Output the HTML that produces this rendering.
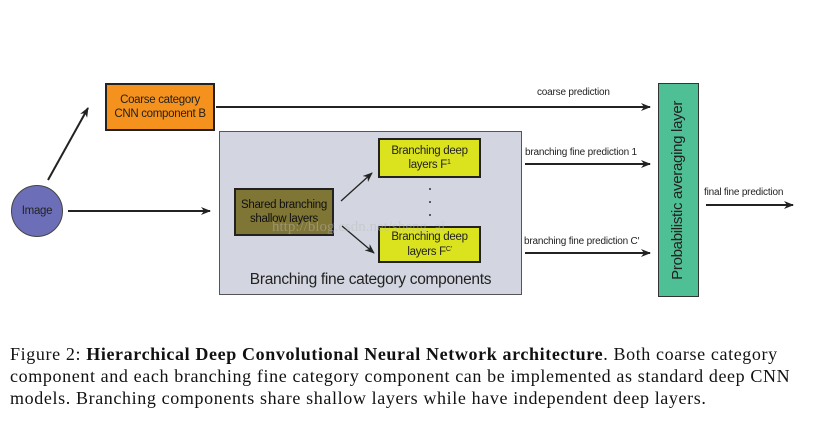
<!DOCTYPE html>
<html><head><style>
body{margin:0;width:817px;height:428px;background:#fff;position:relative;overflow:hidden;font-family:"Liberation Sans",sans-serif}
.b{position:absolute;box-sizing:border-box;display:flex;align-items:center;justify-content:center;text-align:center;line-height:1.25;letter-spacing:-0.3px}
.cap{position:absolute;left:10px;top:343px;width:810px;font-family:"Liberation Serif",serif;font-size:18px;letter-spacing:0.62px;line-height:22px;color:#111;white-space:nowrap}
sup{font-size:7px;vertical-align:4px;line-height:0}
</style></head><body>
<div class="b" style="left:219px;top:131px;width:303px;height:164px;background:#d3d6e0;border:1.5px solid #555;align-items:flex-end;padding-bottom:5px;font-size:15.5px;color:#222">Branching fine category components</div>
<div class="b" style="left:105px;top:83px;width:110px;height:48px;background:#f5921e;border:2px solid #222;font-size:11.5px;color:#222"><span>Coarse category<br>CNN component B</span></div>
<div class="b" style="left:234px;top:188px;width:100px;height:48px;background:#7f7535;border:2px solid #222;font-size:11.5px;color:#111"><span>Shared branching<br>shallow layers</span></div>
<div class="b" style="left:378px;top:138px;width:103px;height:40px;background:#dbe31f;border:2px solid #222;font-size:11.5px;color:#222"><span>Branching deep<br>layers F<sup>1</sup></span></div>
<div class="b" style="left:378px;top:226px;width:103px;height:37px;background:#dbe31f;border:2px solid #222;font-size:11.5px;color:#222"><span>Branching deep<br>layers F<sup>C'</sup></span></div>
<div class="b" style="left:658px;top:83px;width:41px;height:214px;background:#4fc095;border:1.5px solid #333"><span style="transform:rotate(-90deg);white-space:nowrap;font-size:15px;color:#222">Probabilistic averaging layer</span></div>
<div class="b" style="left:11px;top:185px;width:52px;height:52px;border-radius:50%;background:#6c6fb8;border:1.5px solid #444;font-size:11.5px;color:#222">Image</div>
<svg width="817" height="428" style="position:absolute;left:0;top:0">
<defs><marker id="a" markerWidth="10" markerHeight="8" refX="9" refY="4" orient="auto" markerUnits="userSpaceOnUse"><path d="M0,0L10,4L0,8L3,4z" fill="#222"/></marker></defs>
<g stroke="#222" stroke-width="2" marker-end="url(#a)">
<line x1="48" y1="180" x2="88" y2="108"/>
<line x1="68" y1="211" x2="210" y2="211"/>
<line x1="216" y1="107" x2="650" y2="107"/>
<line x1="525" y1="164" x2="650" y2="164"/>
<line x1="525" y1="253" x2="650" y2="253"/>
<line x1="706" y1="205" x2="793" y2="205"/>
<line x1="341" y1="201" x2="372" y2="173" stroke-width="1.3"/>
<line x1="342" y1="226" x2="374" y2="253" stroke-width="1.3"/>
</g>
<g font-size="10" fill="#222" font-family="Liberation Sans,sans-serif" letter-spacing="-0.2">
<text x="537" y="95">coarse prediction</text>
<text x="525" y="155">branching fine prediction 1</text>
<text x="524" y="244">branching fine prediction C′</text>
<text x="704" y="195">final fine prediction</text>
</g>
<g fill="#333"><circle cx="430" cy="189" r="1"/><circle cx="430" cy="202" r="1"/><circle cx="430" cy="215" r="1"/></g>
<text x="272" y="231" font-family="Liberation Serif,serif" font-size="15" fill="#bbb" opacity="0.45">http://blog.csdn.net/sheng_ai</text>
</svg>
<div class="cap">Figure 2: <b>Hierarchical Deep Convolutional Neural Network architecture</b>. Both coarse category<br>component and each branching fine category component can be implemented as standard deep CNN<br>models. Branching components share shallow layers while have independent deep layers.</div>
</body></html>
